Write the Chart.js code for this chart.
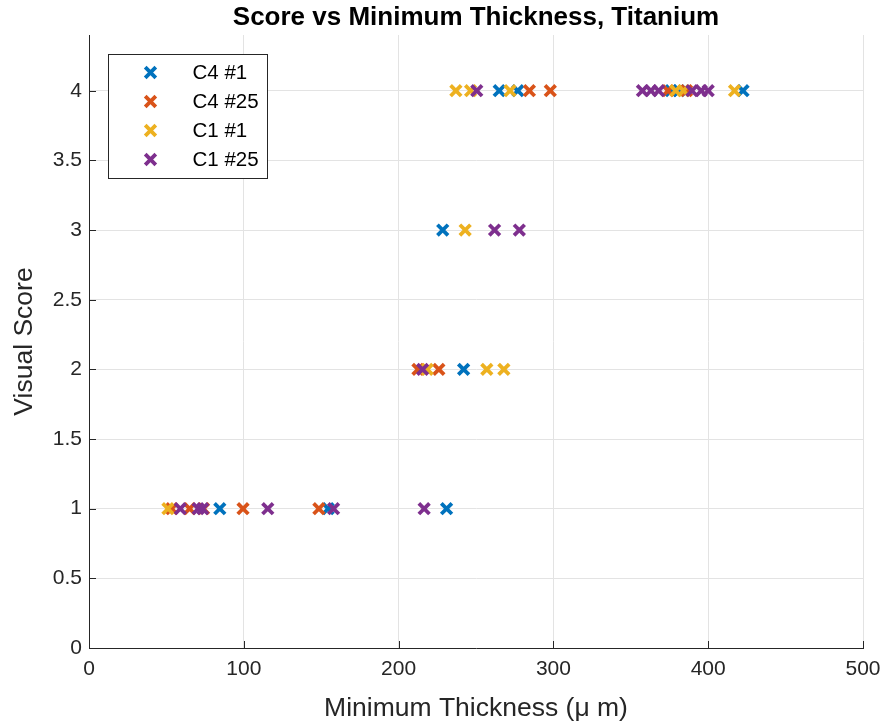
<!DOCTYPE html>
<html>
<head>
<meta charset="utf-8">
<script src="https://cdn.jsdelivr.net/npm/chart.js@4.4.1/dist/chart.umd.min.js"></script>
<style>
  html, body { margin: 0; padding: 0; background: #ffffff; }
  canvas { display: block; }
</style>
</head>
<body>
<canvas id="chart" width="888" height="727"></canvas>
<script>
// Minimum thickness (µm) and visual score for each coupon series
const seriesNames = ['C4 #1', 'C4 #25', 'C1 #1', 'C1 #25'];
const seriesColors = ['#0072BD', '#D95319', '#EDB120', '#7E2F8E'];

const c4n1Thickness  = [84.5, 154.5, 231, 242, 228.5, 265, 277, 376, 381, 422.5];
const c4n1Score      = [1, 1, 1, 2, 3, 4, 4, 4, 4, 4];

const c4n25Thickness = [53.5, 65, 74, 99.5, 148.5, 212.5, 226, 284.5, 298, 374, 386];
const c4n25Score     = [1, 1, 1, 1, 1, 2, 2, 4, 4, 4, 4];

const c1n1Thickness  = [51, 218.5, 257, 268, 243, 237, 246.5, 272, 379, 384, 417];
const c1n1Score      = [1, 2, 2, 2, 3, 4, 4, 4, 4, 4, 4];

const c1n25Thickness = [59, 70.5, 73.5, 115.5, 158, 216.5, 215.5, 262, 278, 250.5, 357.5, 363, 368, 389.5, 395.5, 400];
const c1n25Score     = [1, 1, 1, 1, 1, 1, 2, 3, 3, 4, 4, 4, 4, 4, 4, 4];

const xTicks = [0, 100, 200, 300, 400, 500];
const yTicks = [0, 0.5, 1, 1.5, 2, 2.5, 3, 3.5, 4];

const chartTitle = 'Score vs Minimum Thickness, Titanium';
const xLabel = 'Minimum Thickness (\u03BC m)';
const yLabel = 'Visual Score';

const FONT = '"Liberation Sans", Arial, Helvetica, sans-serif';
const INK = '#262626';
const GRID = '#e3e3e3';

function pairs(xs, ys) {
  return xs.map((x, i) => ({ x: x, y: ys[i] }));
}

const seriesData = [
  pairs(c4n1Thickness, c4n1Score),
  pairs(c4n25Thickness, c4n25Score),
  pairs(c1n1Thickness, c1n1Score),
  pairs(c1n25Thickness, c1n25Score)
];

const MARKER = { pointStyle: 'crossRot', radius: 7.5, borderWidth: 3.8 };

const datasets = seriesNames.map((name, i) => ({
  label: name,
  data: seriesData[i],
  showLine: false,
  // later series are painted over earlier ones
  order: seriesNames.length - i,
  pointStyle: MARKER.pointStyle,
  pointRadius: MARKER.radius,
  pointHoverRadius: MARKER.radius,
  pointBorderWidth: MARKER.borderWidth,
  pointBorderColor: seriesColors[i],
  pointBackgroundColor: seriesColors[i],
  borderColor: seriesColors[i],
  backgroundColor: seriesColors[i]
}));

// Title, inward tick marks and the boxed legend in the upper-left corner
const decorations = {
  id: 'decorations',
  afterDraw(chart) {
    const ctx = chart.ctx;
    const area = chart.chartArea;
    const xs = chart.scales.x;
    const ys = chart.scales.y;
    ctx.save();

    // title centred over the plotting area
    ctx.fillStyle = '#000000';
    ctx.font = 'bold 26px ' + FONT;
    ctx.textAlign = 'center';
    ctx.textBaseline = 'middle';
    ctx.fillText(chartTitle, (area.left + area.right) / 2, 18);

    // tick marks pointing into the axes
    ctx.strokeStyle = INK;
    ctx.lineWidth = 1;
    ctx.beginPath();
    xs.ticks.forEach(t => {
      const px = Math.round(xs.getPixelForValue(t.value)) + 0.5;
      ctx.moveTo(px, area.bottom);
      ctx.lineTo(px, area.bottom - 7);
    });
    ys.ticks.forEach(t => {
      const py = Math.round(ys.getPixelForValue(t.value)) + 0.5;
      ctx.moveTo(area.left, py);
      ctx.lineTo(area.left + 7, py);
    });
    ctx.stroke();

    // legend
    const bx = Math.round(area.left + 19) + 0.5;
    const by = Math.round(area.top + 19) + 0.5;
    const bw = 159, bh = 124;
    ctx.fillStyle = '#ffffff';
    ctx.fillRect(bx, by, bw, bh);
    ctx.strokeStyle = INK;
    ctx.lineWidth = 1;
    ctx.strokeRect(bx, by, bw, bh);
    ctx.font = '20.5px ' + FONT;
    ctx.textAlign = 'left';
    ctx.textBaseline = 'middle';
    seriesNames.forEach((name, i) => {
      const cy = by + 18 + i * 29;
      ctx.strokeStyle = seriesColors[i];
      ctx.fillStyle = seriesColors[i];
      ctx.lineWidth = MARKER.borderWidth;
      Chart.helpers.drawPoint(ctx, {
        pointStyle: MARKER.pointStyle,
        radius: MARKER.radius,
        borderWidth: MARKER.borderWidth,
        rotation: 0
      }, bx + 42, cy);
      ctx.fillStyle = '#000000';
      ctx.fillText(name, bx + 84, cy + 1);
    });
    ctx.restore();
  }
};

new Chart(document.getElementById('chart'), {
  type: 'scatter',
  data: { datasets: datasets },
  options: {
    responsive: false,
    animation: false,
    layout: { padding: { top: 35, right: 25, left: 0, bottom: 0 } },
    plugins: {
      legend: { display: false },
      title: { display: false },
      tooltip: { enabled: false }
    },
    scales: {
      x: {
        type: 'linear',
        min: 0,
        max: 500,
        afterBuildTicks: s => { s.ticks = xTicks.map(v => ({ value: v })); },
        afterFit: s => { s.height = 79; s.paddingLeft = 0; s.paddingRight = 0; },
        grid: { color: GRID, drawTicks: false },
        border: { color: INK, width: 1 },
        ticks: {
          color: INK,
          padding: 9,
          maxRotation: 0,
          font: { family: FONT, size: 21 },
          callback: v => String(v)
        },
        title: {
          display: true,
          text: xLabel,
          color: INK,
          font: { family: FONT, size: 26.5 },
          padding: { top: 0, bottom: 2 }
        }
      },
      y: {
        type: 'linear',
        min: 0,
        max: 4.4,
        afterBuildTicks: s => { s.ticks = yTicks.map(v => ({ value: v })); },
        afterFit: s => { s.width = 89; s.paddingTop = 0; s.paddingBottom = 0; },
        grid: { color: GRID, drawTicks: false },
        border: { color: INK, width: 1 },
        ticks: {
          color: INK,
          padding: 7,
          font: { family: FONT, size: 21 },
          callback: v => String(v)
        },
        title: {
          display: true,
          text: yLabel,
          color: INK,
          font: { family: FONT, size: 26.5 },
          padding: { top: 9, bottom: 0 }
        }
      }
    }
  },
  plugins: [decorations]
});
</script>
</body>
</html>
